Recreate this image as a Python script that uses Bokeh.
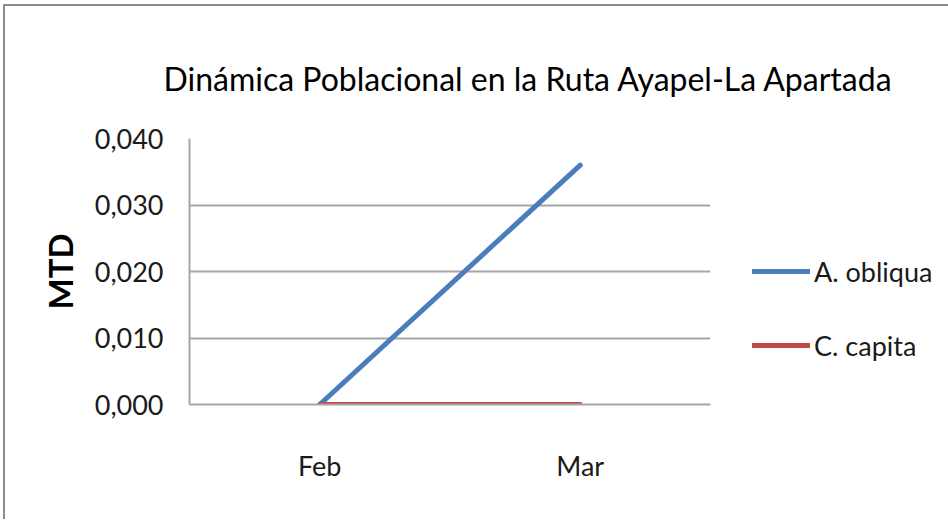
from bokeh.plotting import figure
from bokeh.models import (ColumnDataSource, FactorRange, Range1d, Legend, LegendItem,
                          FixedTicker, Title)
from bokeh.embed import file_html
from bokeh.resources import INLINE

months = ["Feb", "Mar"]
a_obliqua = [0.0, 0.036]
c_capita = [0.0, 0.0]
y_ticks = [0.0, 0.01, 0.02, 0.03, 0.04]
y_tick_labels = ["0,000", "0,010", "0,020", "0,030", "0,040"]
series_names = ["A. obliqua", "C. capita"]
title_text = "Dinámica Poblacional en la Ruta Ayapel-La Apartada"
y_label = "MTD"

FONT = "Lato"
GRID = "#a6a6a6"

p = figure(x_range=FactorRange(*months), y_range=Range1d(0, 0.04),
           frame_width=521, frame_height=266,
           min_border_left=184, min_border_right=228,
           min_border_top=132, min_border_bottom=115,
           output_backend="svg", toolbar_location=None)
p.outline_line_color = None
p.background_fill_color = "white"
p.border_fill_color = "white"

src = ColumnDataSource(dict(month=months, a=a_obliqua, c=c_capita))
ra = p.line(x="month", y="a", source=src, line_width=5, line_color="#4a7ebb", line_cap="round")
rc = p.line(x="month", y="c", source=src, line_width=5, line_color="#be4b48", line_cap="round")

# axes
p.yaxis.ticker = FixedTicker(ticks=y_ticks)
p.yaxis.major_label_overrides = {t: l for t, l in zip(y_ticks, y_tick_labels)}
for ax in (p.xaxis[0], p.yaxis[0]):
    ax.axis_line_color = GRID
    ax.axis_line_width = 2
    ax.major_tick_line_color = None
    ax.minor_tick_line_color = None
    ax.major_tick_out = 0
    ax.major_tick_in = 0
    ax.major_label_text_font = FONT
    ax.major_label_text_font_size = "27px"
    ax.major_label_text_color = "#1a1a1a"
p.yaxis.major_label_standoff = 26
p.xaxis.major_label_standoff = 44
p.yaxis.axis_label = y_label
p.yaxis.axis_label_text_font = FONT
p.yaxis.axis_label_text_font_style = "bold"
p.yaxis.axis_label_text_font_size = "33px"
p.yaxis.axis_label_text_color = "#000000"
p.yaxis.axis_label_standoff = 12

p.xgrid.grid_line_color = None
p.ygrid.grid_line_color = GRID
p.ygrid.grid_line_width = 2
p.ygrid.ticker = FixedTicker(ticks=y_ticks)

t = Title(text=title_text, align="left", text_font=FONT, text_font_size="32px",
          text_font_style="normal", text_color="#000000", offset=-26, standoff=81)
p.add_layout(t, "above")

legend = Legend(items=[LegendItem(label=series_names[0], renderers=[ra]),
                       LegendItem(label=series_names[1], renderers=[rc])],
                location=(42, 39), orientation="vertical")
legend.border_line_color = None
legend.background_fill_alpha = 0
legend.padding = 0
legend.margin = 0
legend.glyph_width = 58
legend.glyph_height = 40
legend.label_height = 40
legend.spacing = 34
legend.label_standoff = 4
legend.label_text_font = FONT
legend.label_text_font_size = "27px"
legend.label_text_color = "#1a1a1a"
p.add_layout(legend, "right")

p.styles = {"border-top": "2px solid #8c8c8c", "border-left": "2px solid #8c8c8c",
            "margin-left": "3px", "margin-top": "4px"}

open("out.html", "w").write(file_html(p, INLINE))
